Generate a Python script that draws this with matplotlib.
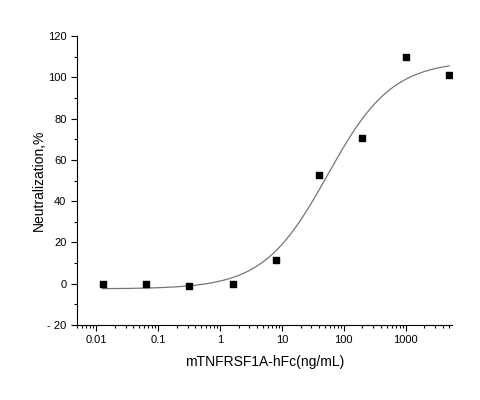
import numpy as np
import matplotlib
matplotlib.use('Agg')
from matplotlib import pyplot as plt
from matplotlib.ticker import LogLocator, MultipleLocator, NullFormatter, FuncFormatter, FixedLocator

plt.rcParams['font.family'] = ['Liberation Sans', 'DejaVu Sans']

# measured points (5-fold dilution series)
conc = [0.0128, 0.064, 0.32, 1.6, 8, 40, 200, 1000, 5000]
neutralization = [-0.3, 0.0, -1.2, -0.3, 11.6, 52.7, 70.8, 109.8, 101.0]
x_ticks = [0.01, 0.1, 1, 10, 100, 1000]

# 4-parameter logistic fit, parameters
bottom = -2.5
top = 108.0
ec50 = 54.8
hill = 0.836

xs = np.logspace(np.log10(conc[0]), np.log10(conc[-1]), 300)
fit = bottom + (top - bottom) / (1 + (ec50 / xs) ** hill)

fig = plt.figure(figsize=(4.8, 4.0), dpi=100)
ax = fig.add_axes([0.16, 0.1875, 0.782, 0.7225])

ax.plot(xs, fit, color='#767676', lw=0.9)
ax.scatter(conc, neutralization, marker='s', s=22, color='black', zorder=3)

ax.set_xscale('log')
ax.set_xlim(0.0049, 5600)
ax.set_ylim(-20, 120)

ax.yaxis.set_major_locator(MultipleLocator(20))
ax.yaxis.set_minor_locator(MultipleLocator(10))
ax.xaxis.set_major_locator(FixedLocator(x_ticks))
ax.xaxis.set_minor_locator(LogLocator(base=10, subs=np.arange(2, 10), numticks=20))
ax.xaxis.set_minor_formatter(NullFormatter())
ax.xaxis.set_major_formatter(FuncFormatter(lambda v, p: ('%g' % v)))
ax.yaxis.set_major_formatter(FuncFormatter(lambda v, p: ('%d' % v) if v >= 0 else '- %d' % abs(v)))

for s in ['top', 'right']:
    ax.spines[s].set_visible(False)
ax.tick_params(which='major', direction='out', length=4, width=0.8, labelsize=8)
ax.tick_params(which='minor', direction='out', length=2, width=0.8)

ax.set_xlabel('mTNFRSF1A-hFc(ng/mL)', fontsize=10, labelpad=7)
ax.set_ylabel('Neutralization,%', fontsize=10, labelpad=1)

fig.savefig('out.png', dpi=100)
